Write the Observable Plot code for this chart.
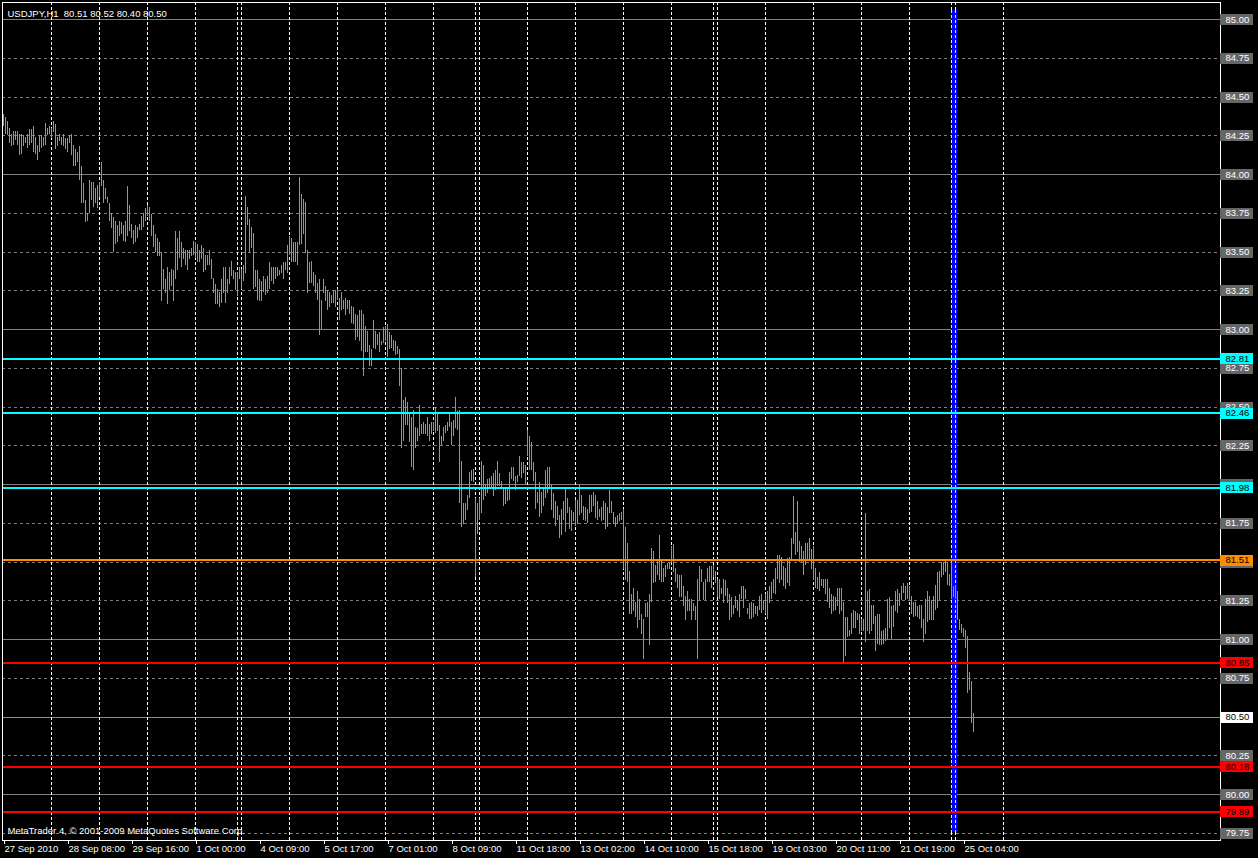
<!DOCTYPE html>
<html>
<head>
<meta charset="utf-8">
<script src="https://cdn.jsdelivr.net/npm/d3@7"></script>
<script src="https://cdn.jsdelivr.net/npm/@observablehq/plot@0.6"></script>
<style>
html, body { margin: 0; padding: 0; background: #000; }
svg { display: block; }
svg text { white-space: pre; }
</style>
</head>
<body>
<div id="chart"></div>
<script>
// ---------- data ----------
const symbol = "USDJPY";
const period = "H1";
const quote = [80.51, 80.52, 80.40, 80.50]; // open high low close of the last bar
const copyright = "MetaTrader 4, © 2001-2009 MetaQuotes Software Corp.";

// hourly bar highs (bar 0 = 27 Sep 2010 00:00)
const high = [
84.39,84.37,84.34,84.30,84.26,84.28,84.28,84.28,84.26,84.26,
84.25,84.24,84.26,84.29,84.29,84.31,84.24,84.19,84.25,84.25,
84.24,84.33,84.30,84.31,84.30,84.34,84.32,84.24,84.26,84.24,
84.26,84.23,84.23,84.25,84.26,84.19,84.16,84.14,84.18,84.05,
83.94,83.83,83.75,83.96,83.95,83.95,83.91,83.93,83.95,84.08,
83.96,83.91,83.85,83.81,83.75,83.72,83.70,83.67,83.70,83.69,
83.67,83.70,83.92,83.80,83.68,83.64,83.67,83.66,83.68,83.73,
83.75,83.78,83.80,83.79,83.74,83.67,83.61,83.59,83.56,83.50,
83.39,83.32,83.40,83.37,83.39,83.38,83.63,83.59,83.63,83.56,
83.52,83.51,83.51,83.51,83.52,83.57,83.56,83.55,83.51,83.54,
83.52,83.48,83.48,83.51,83.45,83.33,83.29,83.26,83.24,83.32,
83.40,83.40,83.32,83.40,83.44,83.38,83.37,83.37,83.40,83.39,
83.41,83.86,83.79,83.71,83.66,83.62,83.38,83.38,83.32,83.31,
83.34,83.32,83.34,83.43,83.40,83.40,83.40,83.40,83.38,83.41,
83.43,83.43,83.54,83.60,83.59,83.56,83.56,83.56,83.98,83.87,
83.84,83.82,83.51,83.43,83.44,83.37,83.35,83.30,83.32,83.19,
83.32,83.28,83.25,83.24,83.22,83.25,83.25,83.26,83.20,83.24,
83.19,83.20,83.19,83.19,83.15,83.14,83.10,83.09,83.12,83.12,
83.10,83.02,82.99,82.90,82.87,83.06,82.99,82.97,82.98,82.92,
83.01,83.02,83.03,82.98,82.96,82.93,82.92,82.89,82.87,82.75,
82.54,82.56,82.53,82.46,82.43,82.48,82.37,82.36,82.51,82.39,
82.40,82.39,82.43,82.39,82.40,82.40,82.50,82.45,82.38,82.31,
82.37,82.38,82.40,82.45,82.40,82.41,82.56,82.47,82.48,82.15,
81.88,81.88,81.93,82.08,82.09,82.10,81.91,81.88,81.91,82.15,
82.12,82.00,82.03,82.04,82.05,82.07,82.09,82.15,82.07,82.02,
81.98,81.97,81.98,82.08,82.11,82.11,82.05,82.06,82.18,82.14,
82.14,82.12,82.35,82.31,82.27,82.14,82.08,81.95,82.01,81.95,
81.98,82.09,82.11,82.11,82.00,81.94,81.89,81.86,81.80,81.84,
81.89,81.97,81.91,81.85,81.83,81.82,81.90,81.90,82.00,81.93,
81.86,81.85,81.84,81.93,81.93,81.95,81.93,81.89,81.84,81.85,
81.89,81.88,81.85,81.96,81.89,81.82,81.79,81.80,81.81,81.82,
81.84,81.72,81.62,81.44,81.29,81.33,81.24,81.31,81.26,81.16,
81.13,81.23,81.24,81.29,81.59,81.57,81.48,81.51,81.67,81.51,
81.46,81.48,81.49,81.50,81.60,81.61,81.46,81.42,81.41,81.41,
81.34,81.28,81.31,81.26,81.26,81.23,81.21,81.39,81.47,81.45,
81.37,81.39,81.46,81.47,81.47,81.48,81.44,81.39,81.39,81.33,
81.39,81.38,81.33,81.29,81.27,81.22,81.28,81.25,81.29,81.34,
81.34,81.32,81.20,81.23,81.24,81.23,81.21,81.21,81.28,81.29,
81.25,81.29,81.31,81.34,81.37,81.39,81.46,81.54,81.54,81.53,
81.47,81.46,81.52,81.53,81.65,81.92,81.69,81.89,81.63,81.60,
81.57,81.62,81.62,81.65,81.58,81.60,81.46,81.40,81.43,81.39,
81.39,81.39,81.39,81.33,81.29,81.28,81.27,81.33,81.33,81.33,
81.24,81.14,81.14,81.06,81.17,81.19,81.18,81.17,81.16,81.13,
81.13,81.81,81.31,81.32,81.22,81.22,81.15,81.16,81.16,81.05,
81.06,81.07,81.26,81.27,81.21,81.22,81.31,81.32,81.30,81.34,
81.36,81.34,81.36,81.34,81.28,81.24,81.24,81.21,81.22,81.22,
81.13,81.26,81.31,81.28,81.25,81.28,81.35,81.43,81.44,81.50,
81.50,81.51,81.50,81.42,81.50,81.34,81.35,81.31,81.13,81.10,
81.07,81.06,81.02,80.79,80.73,80.52
];

// hourly bar lows
const low = [
84.31,84.26,84.25,84.20,84.18,84.19,84.22,84.19,84.12,84.13,
84.18,84.20,84.17,84.19,84.20,84.14,84.13,84.09,84.14,84.17,
84.18,84.19,84.25,84.26,84.23,84.27,84.16,84.18,84.21,84.19,
84.18,84.16,84.14,84.20,84.12,84.05,84.05,84.08,83.96,83.81,
83.81,83.69,83.70,83.75,83.83,83.79,83.81,83.78,83.85,83.92,
83.81,83.84,83.81,83.70,83.65,83.50,83.55,83.56,83.60,83.61,
83.57,83.56,83.60,83.63,83.59,83.55,83.56,83.59,83.64,83.64,
83.66,83.70,83.73,83.70,83.60,83.53,83.50,83.47,83.47,83.18,
83.26,83.23,83.16,83.25,83.28,83.18,83.32,83.38,83.46,83.40,
83.45,83.41,83.38,83.45,83.47,83.48,83.46,83.43,83.43,83.45,
83.37,83.38,83.41,83.41,83.32,83.23,83.16,83.16,83.14,83.17,
83.23,83.17,83.23,83.29,83.34,83.32,83.25,83.21,83.32,83.26,
83.31,83.36,83.67,83.50,83.52,83.26,83.27,83.19,83.18,83.18,
83.24,83.22,83.23,83.26,83.31,83.29,83.32,83.34,83.35,83.36,
83.32,83.38,83.36,83.48,83.43,83.43,83.43,83.41,83.54,83.55,
83.61,83.49,83.23,83.30,83.30,83.28,83.23,83.19,82.96,83.00,
83.23,83.18,83.12,83.14,83.17,83.17,83.14,83.19,83.06,83.12,
83.13,83.09,83.13,83.10,83.04,83.03,82.93,82.95,82.92,82.86,
82.70,82.85,82.85,82.76,82.76,82.88,82.87,82.90,82.85,82.90,
82.91,82.92,82.82,82.87,82.88,82.86,82.83,82.84,82.63,82.23,
82.28,82.38,82.38,82.27,82.11,82.09,82.23,82.28,82.31,82.32,
82.32,82.32,82.31,82.28,82.32,82.34,82.33,82.34,82.14,82.25,
82.28,82.33,82.34,82.37,82.25,82.31,82.36,82.35,81.88,81.72,
81.74,81.77,81.83,81.91,82.02,82.01,81.40,81.68,81.77,81.81,
81.90,81.92,81.94,81.98,81.97,81.92,81.96,81.99,81.99,81.98,
81.86,81.87,81.89,81.90,82.03,82.02,81.96,82.01,82.05,82.04,
82.07,82.00,82.18,82.09,82.09,82.02,81.84,81.88,81.79,81.81,
81.86,81.91,81.94,81.97,81.83,81.78,81.73,81.77,81.65,81.67,
81.77,81.69,81.81,81.71,81.70,81.76,81.73,81.74,81.80,81.81,
81.77,81.76,81.75,81.81,81.82,81.86,81.78,81.77,81.79,81.76,
81.77,81.71,81.72,81.81,81.81,81.74,81.72,81.74,81.76,81.77,
81.45,81.38,81.37,81.16,81.16,81.18,81.14,81.07,81.12,81.03,
80.87,81.14,81.14,80.96,81.24,81.36,81.37,81.41,81.38,81.37,
81.37,81.40,81.45,81.45,81.49,81.43,81.37,81.33,81.27,81.27,
81.21,81.12,81.18,81.18,81.12,81.18,81.12,80.87,81.25,81.37,
81.25,81.25,81.37,81.37,81.33,81.40,81.36,81.27,81.26,81.29,
81.23,81.28,81.23,81.12,81.14,81.16,81.20,81.18,81.14,81.26,
81.20,81.26,81.16,81.13,81.13,81.14,81.16,81.15,81.19,81.17,
81.19,81.16,81.13,81.23,81.26,81.30,81.29,81.39,81.36,81.38,
81.34,81.32,81.36,81.34,81.51,81.61,81.54,81.56,81.50,81.50,
81.41,81.48,81.51,81.51,81.45,81.38,81.33,81.32,81.31,81.34,
81.33,81.29,81.24,81.20,81.16,81.18,81.19,81.21,81.16,81.18,
80.84,80.89,81.01,81.02,81.03,81.07,81.07,81.12,81.03,81.05,
81.05,80.98,81.05,81.03,81.05,81.10,80.92,80.97,80.96,80.96,
80.97,80.99,81.00,81.07,81.00,81.08,81.18,81.17,81.21,81.25,
81.30,81.25,81.26,81.25,81.16,81.14,81.15,81.14,81.13,81.07,
80.98,81.03,81.11,81.12,81.12,81.12,81.19,81.20,81.25,81.40,
81.41,81.43,81.35,81.34,81.26,81.27,81.26,81.12,81.06,81.04,
81.01,80.94,80.65,80.67,80.46,80.40
];

// time axis (bar index of each label) and its labels
const timeTickBars = [0, 32, 64, 96, 128, 160, 192, 224, 256, 288, 320, 352, 384, 416, 448, 480];
const timeTickLabels = ["27 Sep 2010", "28 Sep 08:00", "29 Sep 16:00", "1 Oct 00:00", "4 Oct 09:00",
  "5 Oct 17:00", "7 Oct 01:00", "8 Oct 09:00", "11 Oct 18:00", "13 Oct 02:00", "14 Oct 10:00",
  "15 Oct 18:00", "19 Oct 03:00", "20 Oct 11:00", "21 Oct 19:00", "25 Oct 04:00"];

// day separators (bar index where a new day/session starts)
const separatorBars = [24, 48, 72, 96, 117, 119, 143, 167, 191, 215, 236, 238, 262, 286, 310,
  334, 355, 357, 381, 405, 429, 453, 474, 476, 500];

// price scale ticks
const priceTicks = [85.00, 84.75, 84.50, 84.25, 84.00, 83.75, 83.50, 83.25, 83.00, 82.75, 82.50,
  82.25, 82.00, 81.75, 81.50, 81.25, 81.00, 80.75, 80.50, 80.25, 80.00, 79.75];
const wholeLevels = [85, 84, 83, 82, 81, 80];

// horizontal level lines
const cyanLevels = [82.81, 82.46, 81.98];
const orangeLevels = [81.51];
const redLevels = [80.85, 80.18, 79.89];
const bidLevel = 80.50;

// vertical marker line (bar index)
const markerBar = 475;

// ---------- chart ----------
const W = 1258, H = 858;
const FONT = "Tahoma, 'Liberation Sans', Arial, sans-serif";
const FS = 9.5;
const GREEN = "#33dd22";
const GRID = "#7c7c7c";
const fmt = d3.format(".2f");

const bars = high.map((h, i) => ({i, high: h, low: low[i]}));
const dashedLevels = priceTicks.filter(p => !wholeLevels.includes(p));
const levelLines = [
  ...cyanLevels.map(p => ({p, kind: "cyan"})),
  ...orangeLevels.map(p => ({p, kind: "orange"})),
  ...redLevels.map(p => ({p, kind: "red"}))
];
const kindColor = {cyan: "#00ffff", orange: "#ff8c00", red: "#ff0000"};

// geometry of the price scale: 85.00 sits 17px under the top of the frame, 155px per yen
const marginTop = 2, marginBottom = 18, marginLeft = 2, marginRight = 38;
const pxPerYen = 155, topOffset = 17;
const innerH = H - marginTop - marginBottom;
const yHi = priceTicks[0] + topOffset / pxPerYen;
const yLo = yHi - innerH / pxPerYen;
const pxPerBar = 2;
const innerW = W - marginLeft - marginRight;
const xLo = -0.5;
const xHi = xLo + innerW / pxPerBar;

// label box geometry (outside the right edge of the frame)
const BOX = {insetLeft: innerW - 0.5, insetRight: -32.5, strokeWidth: 11, shapeRendering: "crispEdges"};
const LABEL = {frameAnchor: "right", dx: 5, textAnchor: "start", fontSize: FS, fontFamily: FONT};

const chart = Plot.plot({
  width: W,
  height: H,
  marginTop, marginBottom, marginLeft, marginRight,
  style: {background: "#000", color: "#fff", fontFamily: FONT, fontSize: FS + "px", overflow: "visible"},
  x: {domain: [xLo, xHi]},
  y: {domain: [yLo, yHi], axis: null},
  marks: [
    // grid
    Plot.ruleY(dashedLevels, {y: d => d, stroke: GRID, strokeDasharray: "3,3", shapeRendering: "crispEdges"}),
    Plot.ruleY(wholeLevels, {y: d => d, stroke: "#808080", shapeRendering: "crispEdges"}),
    Plot.ruleY([bidLevel], {y: d => d, stroke: "#8c8c8c", shapeRendering: "crispEdges"}),
    Plot.ruleX(separatorBars, {x: d => d, stroke: "#ffffff", strokeDasharray: "3,2", shapeRendering: "crispEdges"}),
    // vertical blue marker
    Plot.ruleX([markerBar], {x: d => d, stroke: "#0000ff", strokeWidth: 6, insetTop: 8, insetBottom: 8, shapeRendering: "crispEdges"}),
    Plot.ruleX(separatorBars.filter(b => Math.abs(b - markerBar) <= 2), {x: d => d, stroke: "#ffff00", strokeDasharray: "3,2", insetTop: 8, insetBottom: 8, shapeRendering: "crispEdges"}),
    // price bars
    Plot.ruleX(bars, {x: "i", y1: "low", y2: "high", stroke: GREEN, shapeRendering: "crispEdges"}),
    // level lines
    Plot.ruleY(levelLines, {y: "p", stroke: d => kindColor[d.kind], strokeWidth: 2, shapeRendering: "crispEdges"}),
    // frame
    Plot.frame({stroke: "#ffffff", shapeRendering: "crispEdges"}),
    // price scale labels
    Plot.ruleY(priceTicks, {y: d => d, stroke: "#666666", ...BOX}),
    Plot.text(priceTicks, {y: d => d, text: d => fmt(d), fill: "#ffffff", ...LABEL}),
    Plot.ruleY(levelLines, {y: "p", stroke: d => kindColor[d.kind], ...BOX}),
    Plot.text(levelLines, {y: "p", text: d => fmt(d.p), fill: "#000000", ...LABEL}),
    Plot.ruleY([bidLevel], {y: d => d, stroke: "#ffffff", ...BOX}),
    Plot.text([bidLevel], {y: d => d, text: d => fmt(d), fill: "#000000", ...LABEL}),
    // time axis
    Plot.axisX({
      ticks: timeTickBars,
      tickFormat: d => timeTickLabels[timeTickBars.indexOf(d)],
      tickSize: 4, tickPadding: 1, textAnchor: "start", dx: 1,
      label: null, fontSize: FS, fontFamily: FONT, color: "#ffffff"
    }),
    // title and copyright
    Plot.text([`${symbol},${period}  ${quote.map(fmt).join(" ")}`], {
      text: d => d, frameAnchor: "top-left", dx: 5, dy: 8, textAnchor: "start",
      fill: "#ffffff", fontSize: FS, fontFamily: FONT
    }),
    Plot.text([copyright], {
      text: d => d, frameAnchor: "bottom-left", dx: 5, dy: -7, textAnchor: "start",
      fill: "#ffffff", fontSize: FS, fontFamily: FONT
    })
  ]
});

document.getElementById("chart").appendChild(chart);
</script>
</body>
</html>
